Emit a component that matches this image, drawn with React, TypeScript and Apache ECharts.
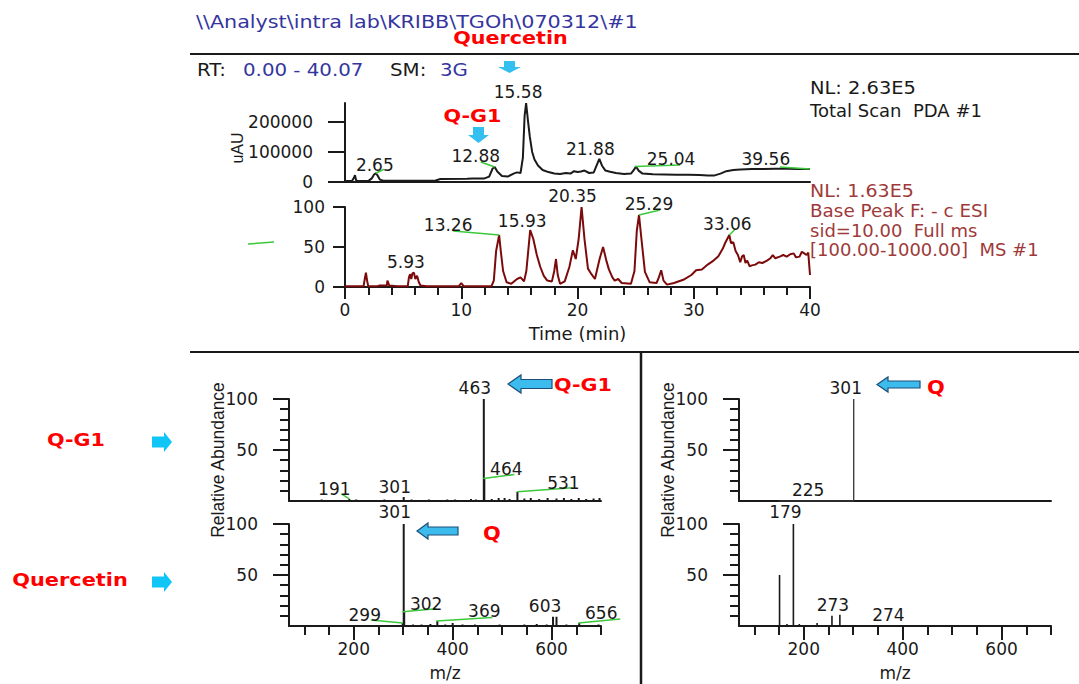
import { useEffect, useRef } from 'react';
import * as echarts from 'echarts';

// ---------- DATA ----------
// Top trace: Total Scan PDA #1 (uAU vs time, min)
const PDA_TIME = [0, 0.6, 0.78, 0.86, 0.95, 1.1, 2.0, 2.3, 2.5, 2.65, 2.8, 3.0, 3.3, 5, 7, 7.8, 8.2, 10.5, 11.0, 12.0, 12.4, 12.7, 12.88, 13.1, 13.5, 14.0, 14.5, 14.8, 15.1, 15.3, 15.45, 15.58, 15.75, 15.9, 16.1, 16.3, 16.6, 17.0, 17.5, 18.0, 18.5, 19.0, 19.4, 19.7, 20.0, 20.3, 20.6, 21.0, 21.4, 21.7, 21.88, 22.1, 22.4, 22.8, 23.3, 24.0, 24.6, 24.85, 25.04, 25.25, 25.6, 26.5, 27.5, 28.5, 29.5, 30.5, 31.2, 31.8, 32.3, 32.8, 33.4, 34.0, 35, 36, 37, 38, 39, 39.56, 40.0];
const PDA_UAU = [3000, 3000, 15000, 23000, 6000, 3000, 3000, 12000, 25000, 29000, 22000, 8000, 4000, 4000, 4000, 5000, 10000, 11000, 12000, 12000, 18000, 45000, 50000, 35000, 20000, 18000, 28000, 32000, 30000, 80000, 220000, 263000, 200000, 150000, 100000, 75000, 55000, 40000, 33000, 28000, 27000, 30000, 28000, 36000, 33000, 35000, 38000, 30000, 32000, 60000, 77000, 55000, 38000, 34000, 30000, 27000, 28000, 40000, 52000, 38000, 28000, 26000, 25000, 24000, 24000, 23000, 22000, 22000, 28000, 36000, 40000, 42000, 43000, 43000, 44000, 44000, 43000, 43000, 43000];

// Lower trace: Base Peak (relative %, vs time, min)
const MS_TIME = [0, 1.6, 1.7, 1.8, 1.9, 2.0, 2.8, 3.0, 3.6, 3.65, 3.8, 4.5, 5.4, 5.5, 5.6, 5.7, 5.8, 5.93, 6.05, 6.2, 6.35, 6.5, 7, 9.8, 10.0, 10.2, 12.6, 12.8, 13.0, 13.26, 13.4, 13.6, 13.9, 14.3, 14.8, 15.1, 15.4, 15.6, 15.93, 16.2, 16.5, 16.8, 17.1, 17.4, 17.8, 18.0, 18.15, 18.3, 18.5, 18.9, 19.3, 19.6, 19.85, 20.1, 20.35, 20.6, 20.9, 21.2, 21.5, 21.9, 22.2, 22.5, 22.7, 23.0, 23.2, 23.5, 23.8, 24.6, 24.9, 25.1, 25.29, 25.5, 25.8, 26.2, 26.8, 27.0, 27.2, 27.4, 27.7, 28.3, 29.1, 29.8, 30.2, 30.7, 31.2, 31.7, 32.1, 32.5, 32.7, 33.06, 33.2, 33.4, 33.6, 33.8, 34.0, 34.15, 34.3, 34.45, 34.6, 34.8, 35.0, 35.3, 35.6, 35.9, 36.3, 36.6, 36.8, 37.0, 37.4, 37.7, 38.0, 38.3, 38.6, 38.8, 39.1, 39.3, 39.5, 39.7, 39.85, 40.0];
const MS_REL = [1, 1, 10, 18, 8, 1, 1, 2, 2, 8, 2, 1, 1, 12, 16, 10, 17, 18, 10, 14, 6, 2, 1, 1, 5, 1, 1, 8, 45, 65, 45, 20, 6, 4, 10, 12, 7, 20, 71, 60, 40, 25, 14, 8, 7, 20, 35, 15, 4, 7, 25, 46, 35, 60, 100, 60, 23, 16, 10, 35, 50, 32, 22, 12, 8, 10, 5, 4, 20, 70, 90, 60, 19, 6, 5, 12, 21, 8, 3, 5, 9, 15, 21, 22, 28, 33, 38, 48, 55, 65, 55, 56, 45, 40, 31, 38, 40, 30, 33, 26, 27, 28, 31, 30, 33, 36, 40, 36, 38, 40, 38, 41, 42, 37, 38, 44, 42, 40, 43, 15];

// Peak labels of the chromatograms
const PDA_PEAK_TEXT = ['2.65', '12.88', '15.58', '21.88', '25.04', '39.56'];
const PDA_PEAK_TIME = [2.65, 12.88, 15.58, 21.88, 25.04, 39.56];
const PDA_PEAK_HEIGHT = [29000, 50000, 263000, 77000, 52000, 43000];
const MS_PEAK_TEXT = ['5.93', '13.26', '15.93', '20.35', '25.29', '33.06'];
const MS_PEAK_TIME = [5.93, 13.26, 15.93, 20.35, 25.29, 33.06];
const MS_PEAK_HEIGHT = [18, 65, 71, 100, 90, 65];

// Mass spectra (m/z, relative abundance %)
const QG1_MZ = [85, 112, 135, 160, 178, 191, 205, 222, 245, 262, 280, 301, 317, 335, 352, 372, 389, 405, 421, 437, 447, 463, 464, 479, 493, 505, 515, 531, 545, 558, 575, 592, 610, 625, 640, 655, 670, 685, 697];
const QG1_AB = [1, 1, 1.5, 1, 1, 2, 1.5, 1, 1, 1.5, 1, 4, 1.5, 1, 1.5, 1, 1.5, 1.5, 1, 2, 1.5, 100, 22, 2, 3, 3, 2, 9, 2.5, 3, 2, 3, 2.5, 3, 2, 3, 2, 2.5, 3];
const QUER_MZ = [299, 301, 302, 320, 337, 355, 369, 385, 400, 420, 445, 470, 495, 520, 545, 570, 590, 603, 610, 630, 656, 680, 695];
const QUER_AB = [3, 100, 14, 1.5, 1.5, 2, 5, 1.5, 3, 1.5, 1.5, 1, 1.5, 1, 1.5, 2, 1.5, 9, 9, 1.5, 3, 1, 1.5];
const STD_MZ = [150, 170, 195, 225, 250, 275, 290, 301];
const STD_AB = [0.5, 0.5, 0.5, 1, 0.5, 0.5, 0.5, 100];
const MS2_MZ = [121, 151, 166, 179, 191, 211, 227, 257, 273];
const MS2_AB = [0.5, 50, 2, 100, 2, 1, 3, 10, 11];

const QG1_LABEL_MZ = [463, 464, 531, 191, 301];
const QG1_LABEL_AB = [100, 22, 9, 2, 4];
const QUER_LABEL_MZ = [301, 302, 299, 369, 603, 656];
const QUER_LABEL_AB = [100, 14, 3, 5, 9, 3];
const STD_LABEL_MZ = [301, 225];
const STD_LABEL_AB = [100, 1];
const MS2_LABEL_MZ = [179, 273, 274];
const MS2_LABEL_AB = [100, 11, 2];

// Axis ticks / labels
const PDA_Y_TICKS = [0, 100000, 200000];
const MS_Y_TICKS = [0, 50, 100];
const SPEC_Y_MAJOR = [50, 100];
const SPEC_Y_MINOR = [10, 20, 30, 40, 60, 70, 80, 90];
const MZ_MAJOR = [200, 400, 600];
const MZ_MINOR = [100, 150, 250, 300, 350, 450, 500, 550, 650, 700];

// ---------- LAYOUT (label offsets in px from the peak apex) ----------
type Lay = { dx: number; dy: number; lead?: number[] };
const PDA_LAY: Lay[] = [
  { dx: -1, dy: -8, lead: [0, 0, 8, -4] },
  { dx: -19, dy: -11, lead: [-14, -5, 0, 0] },
  { dx: -8, dy: -11.5 },
  { dx: -9, dy: -10 },
  { dx: 35, dy: -7, lead: [-1, 0, 44, -1.5] },
  { dx: -39, dy: -10, lead: [-25, -2, 5, 0] },
];
const MS_LAY: Lay[] = [
  { dx: -8, dy: -11 },
  { dx: -51, dy: -10, lead: [-46, -4, 0, 0] },
  { dx: -8, dy: -9 },
  { dx: -9, dy: -11 },
  { dx: 10, dy: -11, lead: [0, 0, 21, -5] },
  { dx: -2, dy: -11.5, lead: [0, 0, 6, -6] },
];
const QG1_LAY: Lay[] = [
  { dx: -9, dy: -11.5 },
  { dx: 22, dy: -10, lead: [-1, 0, 30, -4] },
  { dx: 46, dy: -9, lead: [0, 0, 55, -4] },
  { dx: -15, dy: -10, lead: [-8, -5, 0, 0] },
  { dx: -9, dy: -9.5 },
];
const QUER_LAY: Lay[] = [
  { dx: -9, dy: -12 },
  { dx: 22, dy: -8, lead: [-1.5, 0, 32, -3] },
  { dx: -38, dy: -8, lead: [-32, -3, 0, 0] },
  { dx: 47, dy: -10, lead: [-1, 0, 55, -3.5] },
  { dx: -8, dy: -11 },
  { dx: 22, dy: -9.5, lead: [-1, 0, 41, -4] },
];
const STD_LAY: Lay[] = [{ dx: -8, dy: -11.5 }, { dx: -8, dy: -10 }];
const MS2_LAY: Lay[] = [{ dx: -8, dy: -12 }, { dx: -7, dy: -10 }, { dx: 48, dy: -9 }];

const FONT = '"DejaVu Sans", sans-serif';
const INK = '#1a1a1a';
const GREEN = '#3cc83c';
const RED = '#ff0000';
const BLUE_TXT = '#35359f';
const DARKRED_TXT = '#9e3a3a';
const TRACE_RED = '#7c0a0a';
const ARROW = '#33bff0';
const MZ_MIN = 69;
const MZ_MAX = 700;

function sticks(mz: number[], ab: number[]) {
  const idx = mz.map((_, i) => i).sort((a, b) => mz[a] - mz[b]);
  const out: number[][] = [];
  idx.forEach((i) => {
    out.push([mz[i], 0], [mz[i], ab[i]], [mz[i], 0]);
  });
  return out;
}

function annotations(xi: number, yi: number, xs: number[], ys: number[], texts: string[], lay: Lay[]) {
  return {
    type: 'custom',
    xAxisIndex: xi,
    yAxisIndex: yi,
    clip: false,
    silent: true,
    z: 20,
    data: xs.map((x, i) => [x, ys[i]]),
    renderItem: (params: any, api: any) => {
      const L = lay[params.dataIndex];
      const p = api.coord([api.value(0), api.value(1)]);
      const children: any[] = [];
      if (L.lead) {
        children.push({
          type: 'line',
          shape: { x1: p[0] + L.lead[0], y1: p[1] + L.lead[1], x2: p[0] + L.lead[2], y2: p[1] + L.lead[3] },
          style: { stroke: GREEN, lineWidth: 1.5 },
        });
      }
      children.push({
        type: 'text',
        x: p[0] + L.dx,
        y: p[1] + L.dy,
        style: {
          text: texts[params.dataIndex],
          fill: INK,
          font: `17px ${FONT}`,
          align: 'center',
          verticalAlign: 'middle',
          textAlign: 'center',
          textVerticalAlign: 'middle',
        },
      });
      return { type: 'group', children };
    },
  };
}

const axLine = { show: true, onZero: false, lineStyle: { color: INK, width: 2 } };
const tickStyle = { color: INK, width: 2 };
const labelStyle = { fontFamily: FONT, fontSize: 17, color: INK };
const fmt = (v: number) => String(v);

function xBase(grid: number, min: number, max: number, extra: any = {}) {
  return {
    type: 'value', gridIndex: grid, min, max, position: 'bottom',
    splitLine: { show: false }, axisLine: axLine, axisTick: { show: false }, axisLabel: { show: false },
    ...extra,
  };
}
function yBase(grid: number, min: number, max: number, extra: any = {}) {
  return {
    type: 'value', gridIndex: grid, min, max, position: 'left',
    splitLine: { show: false }, axisLine: axLine, axisTick: { show: false }, axisLabel: { show: false },
    ...extra,
  };
}

function mzAxes(grid: number) {
  return [
    xBase(grid, MZ_MIN, MZ_MAX, {
      axisTick: { show: true, customValues: MZ_MAJOR, length: 14, lineStyle: tickStyle },
      axisLabel: { show: true, customValues: MZ_MAJOR, margin: 14, formatter: fmt, ...labelStyle },
      name: 'm/z', nameLocation: 'middle', nameGap: 38,
      nameTextStyle: { fontFamily: FONT, fontSize: 17, color: INK },
    }),
    xBase(grid, MZ_MIN, MZ_MAX, {
      axisLine: { show: false },
      axisTick: { show: true, customValues: MZ_MINOR, length: 9, lineStyle: tickStyle },
    }),
  ];
}
function relAxes(grid: number) {
  return [
    yBase(grid, 0, 100, {
      axisTick: { show: true, customValues: SPEC_Y_MAJOR, length: 16, lineStyle: tickStyle },
      axisLabel: { show: true, customValues: SPEC_Y_MAJOR, margin: 31, formatter: fmt, ...labelStyle },
    }),
    yBase(grid, 0, 100, {
      axisLine: { show: false },
      axisTick: { show: true, customValues: SPEC_Y_MINOR, length: 9, lineStyle: tickStyle },
    }),
  ];
}

function leftArrow(x1: number, x2: number, y1: number, y2: number, head: number, inset: number) {
  const ym = (y1 + y2) / 2;
  return [[x1, ym], [x1 + head, y1], [x1 + head, y1 + inset], [x2, y1 + inset], [x2, y2 - inset], [x1 + head, y2 - inset], [x1 + head, y2]];
}
function rightArrow(x1: number, x2: number, y1: number, y2: number, head: number, inset: number) {
  const ym = (y1 + y2) / 2;
  return [[x2, ym], [x2 - head, y1], [x2 - head, y1 + inset], [x1, y1 + inset], [x1, y2 - inset], [x2 - head, y2 - inset], [x2 - head, y2]];
}
function downArrow(x1: number, x2: number, y1: number, y2: number, head: number, inset: number) {
  const xm = (x1 + x2) / 2;
  return [[x1 + inset, y1], [x2 - inset, y1], [x2 - inset, y2 - head], [x2, y2 - head], [xm, y2], [x1, y2 - head], [x1 + inset, y2 - head]];
}

function txt(text: string, x: number, y: number, fill: string, font: string, extra: any = {}, align = 'left') {
  return {
    type: 'text', x, y, silent: true, ...extra,
    style: { text, fill, font, align, verticalAlign: 'middle', textAlign: align, textVerticalAlign: 'middle' },
  };
}

export default function App() {
  const ref = useRef<HTMLDivElement>(null);
  useEffect(() => {
    if (!ref.current) return;
    const chart = echarts.init(ref.current, null, { renderer: 'svg' });
    const F18 = `18px ${FONT}`;
    const F17 = `17px ${FONT}`;
    const B18 = `bold 18px ${FONT}`;
    const B19 = `bold 19px ${FONT}`;
    const LIB = '"Liberation Sans", Arial, sans-serif';

    const option: any = {
      animation: false,
      backgroundColor: '#ffffff',
      grid: [
        { left: 345, top: 103, width: 465, height: 79, outerBoundsMode: 'none' },
        { left: 345, top: 207, width: 465, height: 80, outerBoundsMode: 'none' },
        { left: 289, top: 399, width: 312, height: 102, outerBoundsMode: 'none' },
        { left: 289, top: 524, width: 312, height: 102, outerBoundsMode: 'none' },
        { left: 739, top: 399, width: 312, height: 102, outerBoundsMode: 'none' },
        { left: 739, top: 524, width: 312, height: 102, outerBoundsMode: 'none' },
      ],
      xAxis: [
        xBase(0, 0, 40),
        xBase(1, 0, 40, {
          interval: 10,
          axisTick: { show: true, length: 12, lineStyle: tickStyle },
          minorTick: { show: true, splitNumber: 5, length: 8, lineStyle: tickStyle },
          axisLabel: { show: true, margin: 14, formatter: fmt, ...labelStyle },
          name: 'Time (min)', nameLocation: 'middle', nameGap: 37,
          nameTextStyle: { fontFamily: FONT, fontSize: 18, color: INK },
        }),
        xBase(2, MZ_MIN, MZ_MAX),
        ...mzAxes(3),
        xBase(4, MZ_MIN, MZ_MAX),
        ...mzAxes(5),
      ],
      yAxis: [
        yBase(0, 0, 263000, {
          axisTick: { show: true, customValues: PDA_Y_TICKS, length: 17, lineStyle: tickStyle },
          axisLabel: { show: true, customValues: PDA_Y_TICKS, margin: 32, formatter: fmt, ...labelStyle },
        }),
        yBase(1, 0, 100, {
          axisTick: { show: true, customValues: MS_Y_TICKS, length: 12, lineStyle: tickStyle },
          axisLabel: { show: true, customValues: MS_Y_TICKS, margin: 20, formatter: fmt, ...labelStyle },
        }),
        ...relAxes(2),
        ...relAxes(3),
        ...relAxes(4),
        ...relAxes(5),
      ],
      series: [
        {
          type: 'line', xAxisIndex: 0, yAxisIndex: 0, showSymbol: false, silent: true, clip: false,
          data: PDA_TIME.map((t, i) => [t, PDA_UAU[i]]),
          lineStyle: { color: INK, width: 2 },
        },
        {
          type: 'line', xAxisIndex: 1, yAxisIndex: 1, showSymbol: false, silent: true, clip: false,
          data: MS_TIME.map((t, i) => [t, MS_REL[i]]),
          lineStyle: { color: TRACE_RED, width: 2 },
        },
        {
          type: 'line', xAxisIndex: 2, yAxisIndex: 2, showSymbol: false, silent: true, clip: false,
          data: sticks(QG1_MZ, QG1_AB), lineStyle: { color: INK, width: 2 },
        },
        {
          type: 'line', xAxisIndex: 3, yAxisIndex: 4, showSymbol: false, silent: true, clip: false,
          data: sticks(QUER_MZ, QUER_AB), lineStyle: { color: INK, width: 2 },
        },
        {
          type: 'line', xAxisIndex: 5, yAxisIndex: 6, showSymbol: false, silent: true, clip: false,
          data: sticks(STD_MZ, STD_AB), lineStyle: { color: '#333', width: 1.3 },
        },
        {
          type: 'line', xAxisIndex: 6, yAxisIndex: 8, showSymbol: false, silent: true, clip: false,
          data: sticks(MS2_MZ, MS2_AB), lineStyle: { color: INK, width: 1.6 },
        },
        annotations(0, 0, PDA_PEAK_TIME, PDA_PEAK_HEIGHT, PDA_PEAK_TEXT, PDA_LAY),
        annotations(1, 1, MS_PEAK_TIME, MS_PEAK_HEIGHT, MS_PEAK_TEXT, MS_LAY),
        annotations(2, 2, QG1_LABEL_MZ, QG1_LABEL_AB, QG1_LABEL_MZ.map(String), QG1_LAY),
        annotations(3, 4, QUER_LABEL_MZ, QUER_LABEL_AB, QUER_LABEL_MZ.map(String), QUER_LAY),
        annotations(5, 6, STD_LABEL_MZ, STD_LABEL_AB, STD_LABEL_MZ.map(String), STD_LAY),
        annotations(6, 8, MS2_LABEL_MZ, MS2_LABEL_AB, MS2_LABEL_MZ.map(String), MS2_LAY),
      ],
      graphic: [
        // frame lines
        { type: 'line', silent: true, shape: { x1: 190, y1: 54, x2: 1079, y2: 54 }, style: { stroke: INK, lineWidth: 2 } },
        { type: 'line', silent: true, shape: { x1: 190, y1: 352, x2: 1079, y2: 352 }, style: { stroke: INK, lineWidth: 2 } },
        { type: 'line', silent: true, shape: { x1: 641, y1: 352, x2: 641, y2: 684 }, style: { stroke: INK, lineWidth: 2.5 } },
        { type: 'line', silent: true, shape: { x1: 248, y1: 244, x2: 274, y2: 242 }, style: { stroke: GREEN, lineWidth: 1.5 } },
        // header texts
        txt('\\\\Analyst\\intra lab\\KRIBB\\TGOh\\070312\\#1', 196, 22, BLUE_TXT, F18, { scaleX: 1.15 }),
        txt('Quercetin', 510.5, 37.5, RED, B18, { scaleX: 1.15 }, 'center'),
        txt('RT:', 197, 69.5, INK, F18, { scaleX: 1.1 }),
        txt('0.00 - 40.07', 243, 69.5, BLUE_TXT, F18, { scaleX: 1.1 }),
        txt('SM:', 390, 69.5, INK, F18, { scaleX: 1.1 }),
        txt('3G', 440, 69.5, BLUE_TXT, F18, { scaleX: 1.1 }),
        txt('NL: 2.63E5', 810, 88, INK, F18, { scaleX: 1.08 }),
        txt('Total Scan  PDA #1', 810, 110, INK, F18),
        txt('NL: 1.63E5', 810, 191, DARKRED_TXT, F17, { scaleX: 1.12 }),
        txt('Base Peak F: - c ESI', 810, 211.5, DARKRED_TXT, F17, { scaleX: 1.08 }),
        txt('sid=10.00  Full ms', 810, 231, DARKRED_TXT, F17, { scaleX: 1.06 }),
        txt('[100.00-1000.00]  MS #1', 810, 250.5, DARKRED_TXT, F17, { scaleX: 1.06 }),
        // rotated axis titles
        txt('uAU', 237, 148, INK, `16px ${LIB}`, { rotation: Math.PI / 2 }, 'center'),
        txt('Relative Abundance', 218, 460, INK, `17.5px ${LIB}`, { rotation: Math.PI / 2 }, 'center'),
        txt('Relative Abundance', 668, 460, INK, `17.5px ${LIB}`, { rotation: Math.PI / 2 }, 'center'),
        // red annotations
        txt('Q-G1', 472.5, 115.5, RED, B18, { scaleX: 1.15 }, 'center'),
        txt('Q-G1', 583, 385, RED, B18, { scaleX: 1.15 }, 'center'),
        txt('Q', 492, 533, RED, B19, { scaleX: 1.1 }, 'center'),
        txt('Q', 936, 387, RED, B19, { scaleX: 1.1 }, 'center'),
        txt('Q-G1', 76, 439.5, RED, B18, { scaleX: 1.15 }, 'center'),
        txt('Quercetin', 70, 579.5, RED, B18, { scaleX: 1.16 }, 'center'),
        // arrows
        { type: 'polygon', silent: true, shape: { points: downArrow(498, 521, 61, 73, 6, 6) }, style: { fill: ARROW } },
        { type: 'polygon', silent: true, shape: { points: downArrow(468, 489, 127, 143, 8, 5) }, style: { fill: ARROW } },
        { type: 'polygon', silent: true, shape: { points: rightArrow(152, 172, 432, 452, 8, 4.5) }, style: { fill: '#10c6f6' } },
        { type: 'polygon', silent: true, shape: { points: rightArrow(152, 172, 572, 592, 8, 4.5) }, style: { fill: '#10c6f6' } },
        { type: 'polygon', silent: true, shape: { points: leftArrow(508, 552, 375, 393, 13, 4.5) }, style: { fill: '#3cbcec', stroke: '#1d4f7a', lineWidth: 1.2 } },
        { type: 'polygon', silent: true, shape: { points: leftArrow(417, 458, 523, 539, 11, 4) }, style: { fill: '#3cbcec', stroke: '#1d4f7a', lineWidth: 1.2 } },
        { type: 'polygon', silent: true, shape: { points: leftArrow(877, 920, 377, 392, 11, 4) }, style: { fill: '#3cbcec', stroke: '#1d4f7a', lineWidth: 1.2 } },
      ],
    };
    chart.setOption(option);
    return () => chart.dispose();
  }, []);
  return (
    <div
      ref={ref}
      style={{ position: 'fixed', left: 0, top: 0, width: 1079, height: 684, background: '#fff' }}
    />
  );
}
